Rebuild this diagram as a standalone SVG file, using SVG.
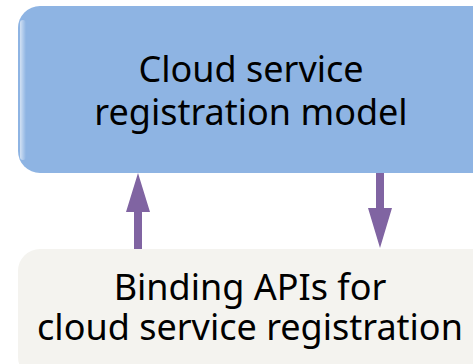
<svg xmlns="http://www.w3.org/2000/svg" width="473" height="364" viewBox="0 0 473 364">
<defs>
<style>
.t{font-family:"Noto Sans","Open Sans","DejaVu Sans",sans-serif;font-size:36px;fill:#000;text-anchor:middle}
.arrow{fill:#8064A2}
</style>
<linearGradient id="hl" x1="0" y1="0" x2="1" y2="0">
<stop offset="0" stop-color="#fff" stop-opacity="0.6"/>
<stop offset="1" stop-color="#fff" stop-opacity="0"/>
</linearGradient>
</defs>
<rect width="473" height="364" fill="#fff"/>
<g id="node-model">
<rect x="18" y="6" width="475" height="167" rx="22" fill="#8EB4E3"/>
<rect x="20" y="20" width="6" height="140" rx="3" fill="url(#hl)"/>
<text class="t" x="251" y="82">Cloud service</text>
<text class="t" x="251" y="125">registration model</text>
</g>
<g id="node-apis">
<rect x="18" y="249" width="475" height="130" rx="22" fill="#F4F3EF"/>
<text class="t" x="250" y="300">Binding APIs for</text>
<text class="t" x="250" y="340">cloud service registration</text>
</g>
<g id="connectors">
<polygon class="arrow" points="134,249 142,249 142,212 150,212 138,173 126,212 134,212"/>
<polygon class="arrow" points="376,173 384,173 384,208 392,208 380,248 368,208 376,208"/>
</g>
</svg>
